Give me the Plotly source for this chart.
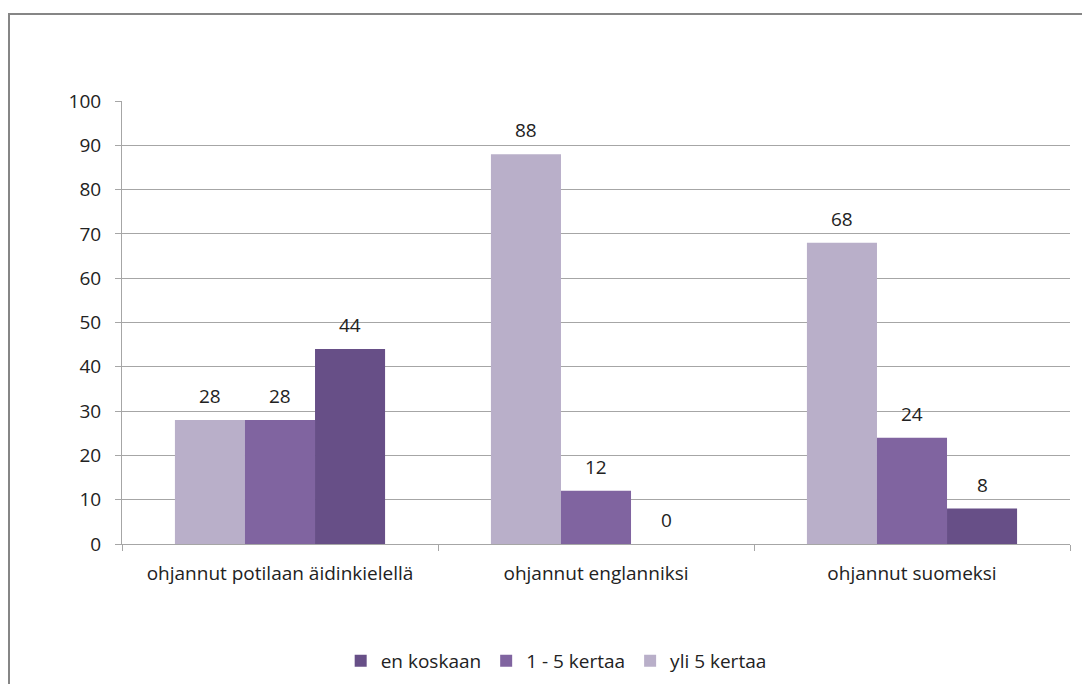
import plotly.graph_objects as go

categories = ["ohjannut potilaan äidinkielellä", "ohjannut englanniksi", "ohjannut suomeksi"]
yli_5_kertaa = [28, 88, 68]
yksi_viisi_kertaa = [28, 12, 24]
en_koskaan = [44, 0, 8]

series = [
    ("yli 5 kertaa", yli_5_kertaa, "#B9AFC9"),
    ("1 - 5 kertaa", yksi_viisi_kertaa, "#8064A0"),
    ("en koskaan", en_koskaan, "#674F87"),
]

font_family = "'Open Sans', sans-serif"
font_size = 19
text_color = "#222222"

# plot-area geometry (pixels) used to offset the value labels over each bar
plot_w = 1082 - 122 - 12
bargap = 0.335
cat_px = plot_w / len(categories)
bar_px = cat_px * (1 - bargap) / len(series)

fig = go.Figure()
annotations = []
for i, (name, vals, color) in enumerate(series):
    fig.add_trace(go.Bar(
        name=name,
        x=categories,
        y=vals,
        marker=dict(color=color, line=dict(width=0)),
    ))
    for cat, v in zip(categories, vals):
        annotations.append(dict(
            x=cat, y=v, xref="x", yref="y",
            text=str(v), showarrow=False,
            xshift=(i - 1) * bar_px, yshift=9,
            yanchor="bottom",
            font=dict(size=font_size, color=text_color, family=font_family),
        ))

fig.update_layout(
    width=1082,
    height=684,
    margin=dict(l=122, r=12, t=101, b=140, autoexpand=False),
    paper_bgcolor="white",
    plot_bgcolor="white",
    barmode="group",
    bargap=bargap,
    bargroupgap=0,
    font=dict(family=font_family, size=font_size, color=text_color),
    showlegend=True,
    legend=dict(
        orientation="h",
        x=0.458,
        xanchor="center",
        y=-0.264,
        yanchor="middle",
        traceorder="reversed",
        font=dict(size=font_size, color=text_color),
        itemwidth=30,
    ),
    xaxis=dict(
        showgrid=False,
        showline=True,
        linecolor="#A6A6A6",
        linewidth=1,
        ticks="outside",
        tickson="boundaries",
        ticklen=6,
        tickcolor="#A6A6A6",
        ticklabelstandoff=12,
        tickfont=dict(size=font_size, color=text_color),
    ),
    yaxis=dict(
        range=[0, 100],
        dtick=10,
        showgrid=True,
        gridcolor="#A6A6A6",
        gridwidth=1,
        showline=True,
        linecolor="#A6A6A6",
        ticks="outside",
        ticklen=6,
        tickcolor="#A6A6A6",
        ticklabelstandoff=10,
        tickfont=dict(size=font_size, color=text_color),
        zeroline=False,
    ),
    annotations=annotations,
    shapes=[
        dict(
            type="rect",
            xref="paper", yref="paper",
            x0=-113 / plot_w, x1=1.05,
            y0=-0.4, y1=(544 - 14) / 443,
            line=dict(color="#868686", width=2),
            fillcolor="rgba(0,0,0,0)",
            layer="below",
        )
    ],
)

fig.write_html("out.html")
